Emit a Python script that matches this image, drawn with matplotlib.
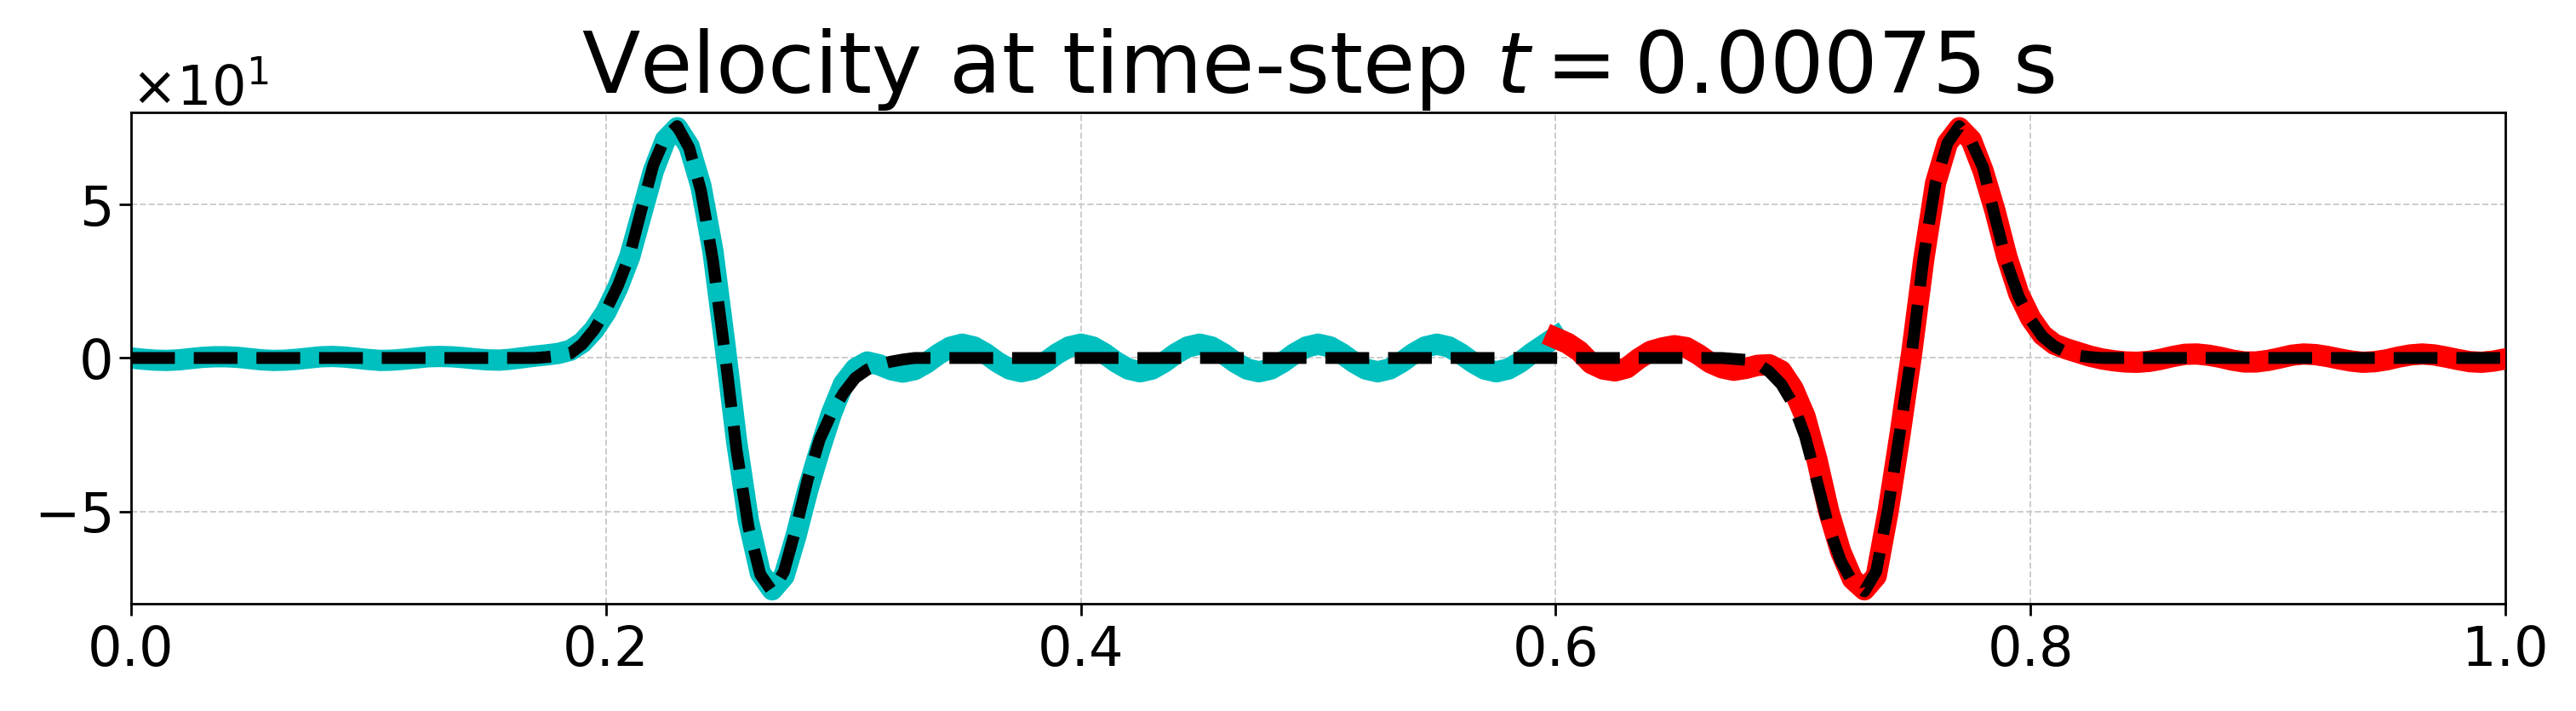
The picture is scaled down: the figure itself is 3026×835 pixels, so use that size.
import numpy as np
import matplotlib
matplotlib.use("Agg")
import matplotlib.pyplot as plt

# values, in units of 10 (axis shows x10^1)
SCALE = 10

# numerical solution, left sub-domain (cyan), x = 0 .. 0.6 step 0.005
x_left = np.linspace(0.0, 0.6, 121)
v_left = [
    0.00, -0.04, -0.07, -0.08, -0.06, -0.02, 0.02, 0.04, 0.04, 0.02,
    -0.02, -0.06, -0.08, -0.07, -0.04, 0.00, 0.04, 0.05, 0.03, -0.01,
    -0.05, -0.08, -0.07, -0.04, 0.00, 0.04, 0.05, 0.04, 0.01, -0.03,
    -0.06, -0.07, -0.04, 0.01, 0.06, 0.10, 0.15, 0.25, 0.50, 0.92,
    1.50, 2.30, 3.30, 4.70, 6.10, 7.10, 7.50, 6.90, 5.60, 3.50,
    0.50, -2.70, -5.30, -7.00, -7.55, -7.10, -5.80, -4.30, -3.00, -1.80,
    -0.85, -0.35, -0.13, -0.22, -0.38, -0.46, -0.38, -0.16, 0.12, 0.35,
    0.45, 0.36, 0.14, -0.14, -0.36, -0.45, -0.36, -0.14, 0.14, 0.36,
    0.45, 0.36, 0.14, -0.14, -0.36, -0.45, -0.36, -0.14, 0.14, 0.36,
    0.45, 0.36, 0.14, -0.14, -0.36, -0.45, -0.36, -0.14, 0.14, 0.36,
    0.45, 0.36, 0.14, -0.14, -0.36, -0.45, -0.36, -0.14, 0.14, 0.36,
    0.45, 0.36, 0.14, -0.14, -0.36, -0.45, -0.36, -0.14, 0.16, 0.42,
    0.68,
]

# numerical solution, right sub-domain (red), x = 0.6 .. 1.0 step 0.005
x_right = np.linspace(0.6, 1.0, 81)
v_right = [
    0.65, 0.48, 0.22, -0.18, -0.36, -0.42, -0.32, -0.02, 0.22, 0.33,
    0.40, 0.34, 0.12, -0.15, -0.32, -0.40, -0.34, -0.24, -0.22, -0.42,
    -1.00, -1.90, -3.30, -5.00, -6.30, -7.20, -7.55, -7.10, -5.00, -2.50,
    0.20, 3.20, 5.70, 7.00, 7.50, 7.10, 6.10, 4.80, 3.30, 2.10,
    1.30, 0.75, 0.45, 0.30, 0.18, 0.06, -0.03, -0.09, -0.13, -0.14,
    -0.11, -0.04, 0.05, 0.12, 0.13, 0.09, 0.02, -0.07, -0.13, -0.13,
    -0.08, 0.00, 0.09, 0.13, 0.11, 0.05, -0.03, -0.10, -0.14, -0.12,
    -0.06, 0.03, 0.10, 0.13, 0.10, 0.03, -0.05, -0.12, -0.14, -0.10,
    -0.03,
]

# exact solution (black dashed), x = 0 .. 1 step 0.005
x_exact = np.linspace(0.0, 1.0, 201)
# x = 0.175 .. 0.325
pulse_a = [
    0.03, 0.07, 0.15, 0.45, 0.92, 1.55, 2.35, 3.35, 4.85, 6.30,
    7.20, 7.55, 6.85, 5.45, 3.20, 0.20, -3.00, -5.50, -7.05, -7.60,
    -6.95, -5.55, -3.95, -2.65, -1.80, -1.15, -0.65, -0.38, -0.22, -0.12,
    -0.05,
]
# x = 0.675 .. 0.825
pulse_b = [
    -0.03, -0.06, -0.18, -0.45, -0.85, -1.50, -2.55, -4.00, -5.50, -6.60,
    -7.30, -7.60, -6.95, -4.90, -2.40, 0.20, 3.30, 5.70, 7.00, 7.55,
    7.05, 6.20, 4.60, 3.10, 2.00, 1.25, 0.70, 0.38, 0.18, 0.08,
    0.03,
]
v_exact = [0.0] * 35 + pulse_a + [0.0] * 69 + pulse_b + [0.0] * 35

fig = plt.figure(figsize=(15.13, 4.175), dpi=200)
ax = fig.add_axes([0.0509, 0.151, 0.9217, 0.691])

ax.plot(x_left, np.array(v_left) * SCALE, color="c", lw=9, zorder=2)
ax.plot(x_right, np.array(v_right) * SCALE, color="r", lw=9, zorder=3)
ax.plot(x_exact, np.array(v_exact) * SCALE, color="k", lw=5, ls="--", zorder=4)

ax.set_xlim(0, 1)
ax.set_ylim(-80, 80)
ax.set_yticks([-50, 0, 50])
ax.ticklabel_format(axis="y", style="sci", scilimits=(0, 0), useMathText=True)
ax.grid(True, color="#cccccc", ls="--", lw=0.7)
ax.set_axisbelow(True)

ax.tick_params(labelsize=23, length=5, width=1)
ax.yaxis.get_offset_text().set_fontsize(23)
for s in ax.spines.values():
    s.set_linewidth(1)

ax.set_title("Velocity at time-step $t = 0.00075$ s", fontsize=36, pad=8)

fig.savefig("out.png", dpi=200)
